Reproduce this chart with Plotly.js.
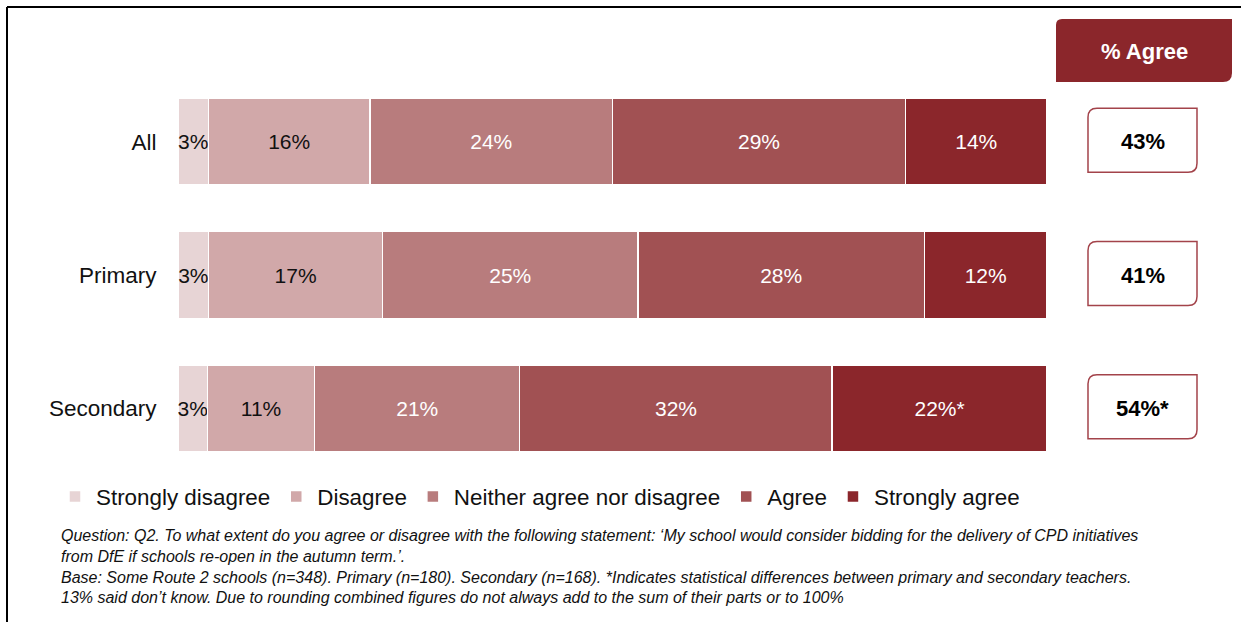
<!DOCTYPE html>
<html>
<head>
<meta charset="utf-8">
<script src="https://cdn.plot.ly/plotly-3.0.1.min.js"></script>
<style>html,body{margin:0;padding:0;background:#fff;}#chart{width:1243px;height:622px;}</style>
</head>
<body>
<div id="chart"></div>
<script>
// ---- data ----
const categories = ['All', 'Primary', 'Secondary'];
const seriesNames = ['Strongly disagree', 'Disagree', 'Neither agree nor disagree', 'Agree', 'Strongly agree'];
const stronglyDisagree = [3, 3, 3];
const disagree = [16, 17, 11];
const neither = [24, 25, 21];
const agree = [29, 28, 32];
const stronglyAgree = [14, 12, 22];
const stronglyAgreeMarks = ['', '', '*'];
const agreeTotalLabels = ['43%', '41%', '54%*'];
const headerLabel = '% Agree';
const footnoteLines = [
  'Question: Q2. To what extent do you agree or disagree with the following statement: \u2018My school would consider bidding for the delivery of CPD initiatives',
  'from DfE if schools re-open in the autumn term.\u2019.',
  'Base: Some Route 2 schools (n=348). Primary (n=180). Secondary (n=168). *Indicates statistical differences between primary and secondary teachers.',
  '13% said don\u2019t know. Due to rounding combined figures do not always add to the sum of their parts or to 100%'
];

// ---- styles ----
const colors = ['#E7D4D5', '#D1A8A9', '#B87C7D', '#A15153', '#8B262B'];
const textColors = ['#111111', '#111111', '#ffffff', '#ffffff', '#ffffff'];
const FONT = '"Liberation Sans", Arial, sans-serif';

const W = 1243, H = 622;
const M = {l: 178, r: 196, t: 75, b: 147};
const PW = W - M.l - M.r, PH = H - M.t - M.b;
const px = x => (x - M.l) / PW;
const py = y => (H - M.b - y) / PH;

const seriesValues = [stronglyDisagree, disagree, neither, agree, stronglyAgree];
const traces = seriesValues.map((vals, i) => ({
  type: 'bar',
  orientation: 'h',
  name: seriesNames[i],
  y: categories,
  x: vals,
  text: vals.map((v, j) => v + '%' + (i === 4 ? stronglyAgreeMarks[j] : '')),
  textposition: 'inside',
  insidetextanchor: 'middle',
  constraintext: 'none',
  textangle: 0,
  textfont: {family: FONT, size: 21, color: textColors[i]},
  marker: {color: colors[i], line: {color: '#ffffff', width: 1.5}},
  hoverinfo: 'name+x'
}));

function roundDiag(x0, y0, x1, y1, r0, r1) {
  // top-left and bottom-right rounded, pixel coords -> paper
  const P = (x, y) => px(x).toFixed(5) + ',' + py(y).toFixed(5);
  return 'M' + P(x0 + r0, y0) + ' L' + P(x1, y0) + ' L' + P(x1, y1 - r1) +
    ' Q' + P(x1, y1) + ' ' + P(x1 - r1, y1) + ' L' + P(x0, y1) + ' L' + P(x0, y0 + r0) +
    ' Q' + P(x0, y0) + ' ' + P(x0 + r0, y0) + ' Z';
}

const rowCenter = i => M.t + PH / categories.length * (i + 0.5);

const shapes = [
  // frame
  {type: 'line', xref: 'paper', yref: 'paper', x0: px(7), x1: px(1241), y0: py(7), y1: py(7), line: {color: '#000', width: 2}},
  {type: 'line', xref: 'paper', yref: 'paper', x0: px(7), x1: px(7), y0: py(7), y1: py(622), line: {color: '#000', width: 2}},
  // header box
  {type: 'path', xref: 'paper', yref: 'paper', path: roundDiag(1056, 19, 1232, 82, 6, 9), fillcolor: '#8B262B', line: {width: 0}}
];
categories.forEach((c, i) => {
  const cy = rowCenter(i) - 1.5;
  shapes.push({type: 'path', xref: 'paper', yref: 'paper', path: roundDiag(1088, cy - 32, 1197, cy + 32, 9, 9),
    fillcolor: '#ffffff', line: {color: '#A3434A', width: 1.5}});
});

const annotations = [
  {xref: 'paper', yref: 'paper', x: px(1144), y: py(52), text: '<b>' + headerLabel + '</b>', showarrow: false,
   font: {family: FONT, size: 22, color: '#ffffff'}, xanchor: 'center', yanchor: 'middle'}
];
categories.forEach((c, i) => {
  annotations.push({xref: 'paper', yref: 'y', x: px(1142.5), y: c, text: '<b>' + agreeTotalLabels[i] + '</b>', showarrow: false,
    font: {family: FONT, size: 22, color: '#000000'}, xanchor: 'center', yanchor: 'middle'});
});
annotations.push({xref: 'paper', yref: 'paper', x: px(59), y: py(525), xanchor: 'left', yanchor: 'top', align: 'left',
  showarrow: false, text: footnoteLines.map(s => '<i>' + s + '</i>').join('<br>'),
  font: {family: FONT, size: 16, color: '#111111'}});

const layout = {
  width: W, height: H,
  margin: M,
  paper_bgcolor: '#ffffff', plot_bgcolor: '#ffffff',
  barmode: 'stack', barnorm: 'percent', bargap: 0.3475,
  showlegend: true,
  legend: {orientation: 'h', x: px(54), xanchor: 'left', y: py(497), yanchor: 'middle', itemwidth: 32,
    font: {family: FONT, size: 22.4, color: '#111111'}, traceorder: 'normal', bgcolor: 'rgba(0,0,0,0)'},
  xaxis: {range: [0, 100], visible: false, fixedrange: true},
  yaxis: {autorange: 'reversed', showgrid: false, zeroline: false, showline: false,
    ticks: 'outside', ticklen: 16, tickcolor: 'rgba(0,0,0,0)',
    tickfont: {family: FONT, size: 22.5, color: '#111111'}, fixedrange: true},
  font: {family: FONT},
  shapes: shapes,
  annotations: annotations
};

Plotly.newPlot('chart', traces, layout, {displayModeBar: false, staticPlot: true});
</script>
</body>
</html>
